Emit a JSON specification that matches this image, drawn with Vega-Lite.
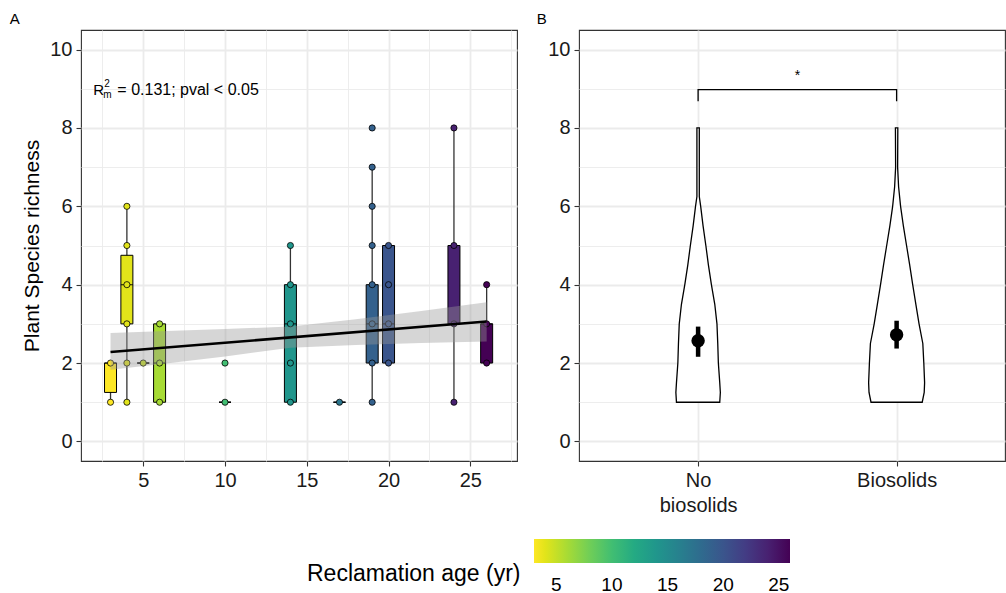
{
  "$schema": "https://vega.github.io/schema/vega-lite/v6.json",
  "background": "white",
  "padding": {"left": 9, "top": 11, "right": 0, "bottom": 0},
  "bounds": "flush",
  "spacing": 62,
  "datasets": {
    "boxes": [
      {"age": 3, "lower": 1, "q1": 1.25, "median": 2, "q3": 2, "upper": 2},
      {"age": 4, "lower": 1, "q1": 3, "median": 4, "q3": 4.75, "upper": 6},
      {"age": 5, "lower": 2, "q1": 2, "median": 2, "q3": 2, "upper": 2},
      {"age": 6, "lower": 1, "q1": 1, "median": 2, "q3": 3, "upper": 3},
      {"age": 10, "lower": 1, "q1": 1, "median": 1, "q3": 1, "upper": 1},
      {"age": 14, "lower": 1, "q1": 1, "median": 3, "q3": 4, "upper": 5},
      {"age": 17, "lower": 1, "q1": 1, "median": 1, "q3": 1, "upper": 1},
      {"age": 19, "lower": 1, "q1": 2, "median": 3, "q3": 4, "upper": 7},
      {"age": 20, "lower": 2, "q1": 2, "median": 3, "q3": 5, "upper": 5},
      {"age": 24, "lower": 1, "q1": 3, "median": 3, "q3": 5, "upper": 8},
      {"age": 26, "lower": 2, "q1": 2, "median": 3, "q3": 3, "upper": 4}
    ],
    "points": [
      {"age": 3, "richness": 1}, {"age": 3, "richness": 2},
      {"age": 4, "richness": 1}, {"age": 4, "richness": 2}, {"age": 4, "richness": 3}, {"age": 4, "richness": 4}, {"age": 4, "richness": 5}, {"age": 4, "richness": 6},
      {"age": 5, "richness": 2},
      {"age": 6, "richness": 1}, {"age": 6, "richness": 2}, {"age": 6, "richness": 3},
      {"age": 10, "richness": 1}, {"age": 10, "richness": 2},
      {"age": 14, "richness": 1}, {"age": 14, "richness": 2}, {"age": 14, "richness": 3}, {"age": 14, "richness": 4}, {"age": 14, "richness": 5},
      {"age": 17, "richness": 1},
      {"age": 19, "richness": 1}, {"age": 19, "richness": 2}, {"age": 19, "richness": 3}, {"age": 19, "richness": 4}, {"age": 19, "richness": 5}, {"age": 19, "richness": 6}, {"age": 19, "richness": 7}, {"age": 19, "richness": 8},
      {"age": 20, "richness": 2}, {"age": 20, "richness": 3}, {"age": 20, "richness": 4}, {"age": 20, "richness": 5},
      {"age": 24, "richness": 1}, {"age": 24, "richness": 3}, {"age": 24, "richness": 5}, {"age": 24, "richness": 8},
      {"age": 26, "richness": 2}, {"age": 26, "richness": 3}, {"age": 26, "richness": 4}
    ],
    "band": [
      {"age": 3, "lo": 1.83, "hi": 2.77},
      {"age": 6, "lo": 1.97, "hi": 2.81},
      {"age": 10, "lo": 2.17, "hi": 2.87},
      {"age": 14, "lo": 2.39, "hi": 2.93},
      {"age": 18, "lo": 2.46, "hi": 3.12},
      {"age": 22, "lo": 2.51, "hi": 3.33},
      {"age": 26, "lo": 2.55, "hi": 3.55}
    ],
    "fit": [
      {"age": 3, "richness": 2.28},
      {"age": 26, "richness": 3.06}
    ],
    "annot": [
      {"age": 1.95, "richness": 8.83}
    ],
    "violin": [
      {"group": 1, "richness": 1.0, "lo": 0.891, "hi": 1.109},
      {"group": 1, "richness": 1.25, "lo": 0.888, "hi": 1.112},
      {"group": 1, "richness": 1.5, "lo": 0.891, "hi": 1.109},
      {"group": 1, "richness": 2.0, "lo": 0.898, "hi": 1.102},
      {"group": 1, "richness": 2.5, "lo": 0.901, "hi": 1.099},
      {"group": 1, "richness": 3.0, "lo": 0.905, "hi": 1.095},
      {"group": 1, "richness": 3.5, "lo": 0.916, "hi": 1.084},
      {"group": 1, "richness": 4.0, "lo": 0.933, "hi": 1.067},
      {"group": 1, "richness": 4.5, "lo": 0.948, "hi": 1.052},
      {"group": 1, "richness": 5.0, "lo": 0.961, "hi": 1.039},
      {"group": 1, "richness": 5.5, "lo": 0.975, "hi": 1.025},
      {"group": 1, "richness": 6.0, "lo": 0.987, "hi": 1.013},
      {"group": 1, "richness": 6.25, "lo": 0.994, "hi": 1.006},
      {"group": 1, "richness": 7.0, "lo": 0.994, "hi": 1.006},
      {"group": 1, "richness": 8.0, "lo": 0.994, "hi": 1.006},
      {"group": 2, "richness": 1.0, "lo": 1.871, "hi": 2.129},
      {"group": 2, "richness": 1.25, "lo": 1.861, "hi": 2.139},
      {"group": 2, "richness": 1.5, "lo": 1.859, "hi": 2.141},
      {"group": 2, "richness": 2.0, "lo": 1.863, "hi": 2.137},
      {"group": 2, "richness": 2.5, "lo": 1.868, "hi": 2.132},
      {"group": 2, "richness": 3.0, "lo": 1.887, "hi": 2.113},
      {"group": 2, "richness": 3.5, "lo": 1.903, "hi": 2.097},
      {"group": 2, "richness": 4.0, "lo": 1.919, "hi": 2.081},
      {"group": 2, "richness": 4.5, "lo": 1.934, "hi": 2.066},
      {"group": 2, "richness": 5.0, "lo": 1.950, "hi": 2.050},
      {"group": 2, "richness": 5.5, "lo": 1.966, "hi": 2.034},
      {"group": 2, "richness": 6.0, "lo": 1.980, "hi": 2.020},
      {"group": 2, "richness": 6.5, "lo": 1.990, "hi": 2.010},
      {"group": 2, "richness": 7.0, "lo": 1.995, "hi": 2.005},
      {"group": 2, "richness": 8.0, "lo": 1.994, "hi": 2.006}
    ],
    "means": [
      {"group": 1, "mean": 2.57, "lo": 2.16, "hi": 2.93},
      {"group": 2, "mean": 2.72, "lo": 2.37, "hi": 3.08}
    ],
    "bracket": [
      {"i": 1, "group": 1, "richness": 8.68},
      {"i": 2, "group": 1, "richness": 8.98},
      {"i": 3, "group": 2, "richness": 8.98},
      {"i": 4, "group": 2, "richness": 8.68}
    ],
    "star": [
      {"group": 1.5, "richness": 9.33, "label": "*"}
    ]
  },
  "hconcat": [
    {
      "width": 436,
      "height": 431,
      "title": {"text": "A", "anchor": "start", "frame": "bounds", "fontSize": 15, "fontWeight": "normal", "font": "Liberation Sans", "color": "black", "dx": -12, "offset": 3},
      "layer": [
        {
          "data": {"name": "boxes"},
          "mark": {"type": "rule", "color": "#333333", "strokeWidth": 1.3},
          "encoding": {
            "x": {"field": "age", "type": "quantitative", "scale": {"domain": [1.5, 27.55], "nice": false, "zero": false},
                  "axis": {"title": null, "values": [2.5, 5, 7.5, 10, 12.5, 15, 17.5, 20, 22.5, 25, 27.5],
                           "labelExpr": "datum.value % 5 == 0 ? datum.label : ''",
                           "tickOpacity": {"condition": {"test": "datum.value % 5 != 0", "value": 0}, "value": 1},
                           "gridWidth": {"condition": {"test": "datum.value % 5 == 0", "value": 1.8}, "value": 0.9}}},
            "y": {"field": "lower", "type": "quantitative", "scale": {"domain": [-0.5, 10.5], "nice": false, "zero": false},
                  "axis": {"title": "Plant Species richness", "titlePadding": 7, "titleFontSize": 21, "values": [0, 1, 2, 3, 4, 5, 6, 7, 8, 9, 10],
                           "labelExpr": "datum.value % 2 == 0 ? datum.label : ''",
                           "tickOpacity": {"condition": {"test": "datum.value % 2 != 0", "value": 0}, "value": 1},
                           "gridWidth": {"condition": {"test": "datum.value % 2 == 0", "value": 1.8}, "value": 0.9}}},
            "y2": {"field": "upper"}
          }
        },
        {
          "data": {"name": "boxes"},
          "mark": {"type": "bar", "size": 12, "stroke": "black", "strokeWidth": 1},
          "encoding": {
            "x": {"field": "age", "type": "quantitative"},
            "y": {"field": "q1", "type": "quantitative"},
            "y2": {"field": "q3"},
            "fill": {"field": "age", "type": "quantitative",
                     "scale": {"scheme": "viridis", "reverse": true, "domain": [3, 26]},
                     "legend": {"title": "Reclamation age (yr)", "orient": "none", "legendX": 226, "legendY": 509,
                                "direction": "horizontal", "titleOrient": "left", "titleAnchor": "end", "titleBaseline": "top",
                                "titleLimit": 400,
                                "gradientLength": 256, "gradientThickness": 24, "values": [5, 10, 15, 20, 25],
                                "titleFontSize": 23, "titleFont": "Liberation Sans", "titleFontWeight": "normal", "titleColor": "black",
                                "labelFontSize": 19, "labelFont": "Liberation Sans", "labelColor": "black", "labelOffset": 13,
                                "titlePadding": 13, "gradientStrokeWidth": 0}}
          }
        },
        {
          "data": {"name": "boxes"},
          "mark": {"type": "tick", "orient": "horizontal", "size": 12, "thickness": 1.3, "color": "black"},
          "encoding": {
            "x": {"field": "age", "type": "quantitative"},
            "y": {"field": "median", "type": "quantitative"}
          }
        },
        {
          "data": {"name": "points"},
          "mark": {"type": "circle", "size": 38, "stroke": "black", "strokeWidth": 0.8, "opacity": 1},
          "encoding": {
            "x": {"field": "age", "type": "quantitative"},
            "y": {"field": "richness", "type": "quantitative"},
            "fill": {"field": "age", "type": "quantitative"}
          }
        },
        {
          "data": {"name": "band"},
          "mark": {"type": "area", "color": "#999999", "opacity": 0.4},
          "encoding": {
            "x": {"field": "age", "type": "quantitative"},
            "y": {"field": "lo", "type": "quantitative"},
            "y2": {"field": "hi"}
          }
        },
        {
          "data": {"name": "fit"},
          "mark": {"type": "line", "color": "black", "strokeWidth": 2.6},
          "encoding": {
            "x": {"field": "age", "type": "quantitative"},
            "y": {"field": "richness", "type": "quantitative"}
          }
        },
        {
          "data": {"name": "annot"},
          "mark": {"type": "text", "text": "R", "align": "left", "baseline": "alphabetic", "fontSize": 15, "font": "Liberation Sans", "color": "black"},
          "encoding": {
            "x": {"field": "age", "type": "quantitative"},
            "y": {"field": "richness", "type": "quantitative"}
          }
        },
        {
          "data": {"name": "annot"},
          "mark": {"type": "text", "text": "2", "align": "left", "baseline": "alphabetic", "fontSize": 10, "font": "Liberation Sans", "color": "black", "dx": 11, "dy": -8},
          "encoding": {
            "x": {"field": "age", "type": "quantitative"},
            "y": {"field": "richness", "type": "quantitative"}
          }
        },
        {
          "data": {"name": "annot"},
          "mark": {"type": "text", "text": "m", "align": "left", "baseline": "alphabetic", "fontSize": 10, "font": "Liberation Sans", "color": "black", "dx": 10, "dy": 3},
          "encoding": {
            "x": {"field": "age", "type": "quantitative"},
            "y": {"field": "richness", "type": "quantitative"}
          }
        },
        {
          "data": {"name": "annot"},
          "mark": {"type": "text", "text": "= 0.131; pval < 0.05", "align": "left", "baseline": "alphabetic", "fontSize": 16, "font": "Liberation Sans", "color": "black", "dx": 24},
          "encoding": {
            "x": {"field": "age", "type": "quantitative"},
            "y": {"field": "richness", "type": "quantitative"}
          }
        }
      ]
    },
    {
      "width": 426,
      "height": 431,
      "title": {"text": "B", "anchor": "start", "frame": "bounds", "fontSize": 15, "fontWeight": "normal", "font": "Liberation Sans", "color": "black", "dx": -11, "offset": 3},
      "layer": [
        {
          "data": {"name": "violin"},
          "mark": {"type": "area", "orient": "horizontal", "fill": "white", "stroke": "black", "strokeWidth": 1.3},
          "encoding": {
            "x": {"field": "lo", "type": "quantitative", "scale": {"domain": [0.4, 2.546], "nice": false, "zero": false},
                  "axis": {"title": null, "values": [1, 2], "labelLineHeight": 25,
                           "labelExpr": "datum.value == 1 ? ['No', 'biosolids'] : 'Biosolids'",
                           "gridWidth": 1.8}},
            "x2": {"field": "hi"},
            "y": {"field": "richness", "type": "quantitative", "scale": {"domain": [-0.5, 10.5], "nice": false, "zero": false},
                  "axis": {"title": null, "values": [0, 1, 2, 3, 4, 5, 6, 7, 8, 9, 10],
                           "labelExpr": "datum.value % 2 == 0 ? datum.label : ''",
                           "tickOpacity": {"condition": {"test": "datum.value % 2 != 0", "value": 0}, "value": 1},
                           "gridWidth": {"condition": {"test": "datum.value % 2 == 0", "value": 1.8}, "value": 0.9}}},
            "detail": {"field": "group", "type": "nominal"}
          }
        },
        {
          "data": {"name": "means"},
          "mark": {"type": "rule", "color": "black", "strokeWidth": 4.5},
          "encoding": {
            "x": {"field": "group", "type": "quantitative"},
            "y": {"field": "lo", "type": "quantitative"},
            "y2": {"field": "hi"}
          }
        },
        {
          "data": {"name": "means"},
          "mark": {"type": "circle", "color": "black", "size": 180, "opacity": 1},
          "encoding": {
            "x": {"field": "group", "type": "quantitative"},
            "y": {"field": "mean", "type": "quantitative"}
          }
        },
        {
          "data": {"name": "bracket"},
          "mark": {"type": "line", "color": "black", "strokeWidth": 1.3},
          "encoding": {
            "x": {"field": "group", "type": "quantitative"},
            "y": {"field": "richness", "type": "quantitative"},
            "order": {"field": "i", "type": "quantitative"}
          }
        },
        {
          "data": {"name": "star"},
          "mark": {"type": "text", "fontSize": 14, "font": "Liberation Sans", "color": "black", "baseline": "middle"},
          "encoding": {
            "x": {"field": "group", "type": "quantitative"},
            "y": {"field": "richness", "type": "quantitative"},
            "text": {"field": "label"}
          }
        }
      ]
    }
  ],
  "config": {
    "font": "Liberation Sans",
    "view": {"stroke": "#333333", "strokeWidth": 1.1},
    "axis": {
      "domain": false,
      "grid": true,
      "gridColor": "#EBEBEB",
      "tickColor": "#333333",
      "tickSize": 5,
      "tickWidth": 1.1,
      "labelFont": "Liberation Sans",
      "labelFontSize": 20,
      "labelColor": "#1a1a1a",
      "labelPadding": 4,
      "titleFont": "Liberation Sans",
      "titleFontSize": 20,
      "titleFontWeight": "normal",
      "titleColor": "black"
    }
  }
}
